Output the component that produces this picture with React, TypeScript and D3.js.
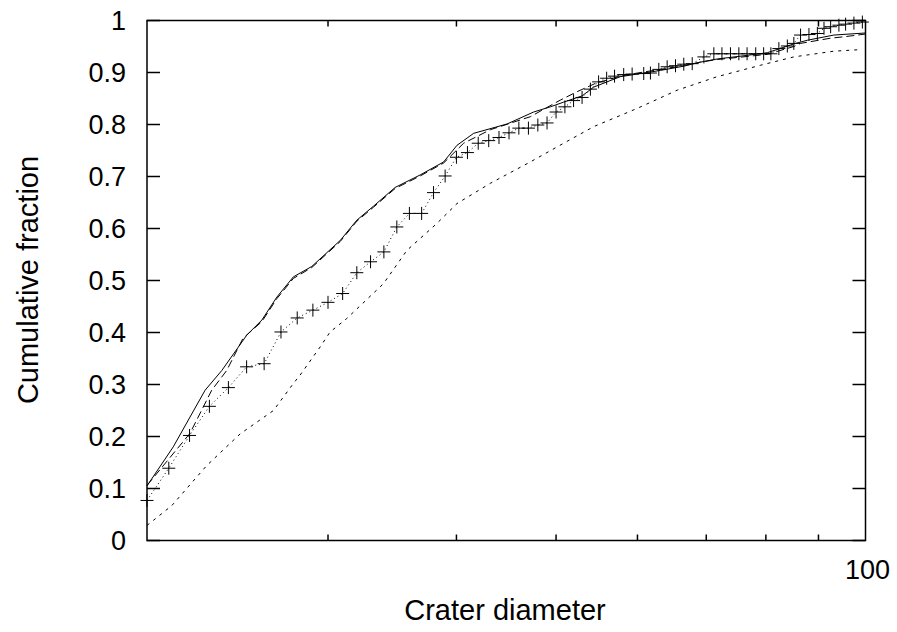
import React from "react";
import * as d3 from "d3";

// Model curves and observed data (crater diameter, cumulative fraction)
const solidD = [20.0, 21.21, 22.78, 23.65, 25.01, 25.87, 26.75, 27.76, 28.93, 30.83, 32.0, 33.22, 34.87, 36.88, 38.87, 40.05, 41.57, 44.8, 47.55, 49.37, 50.86, 53.0, 54.41, 57.75, 60.0, 63.17, 66.5, 69.11, 71.74, 76.0, 80.25, 85.17, 87.77, 93.16, 100];
const solidF = [0.105, 0.180, 0.289, 0.327, 0.395, 0.424, 0.468, 0.507, 0.527, 0.577, 0.616, 0.643, 0.679, 0.703, 0.728, 0.760, 0.783, 0.801, 0.824, 0.834, 0.843, 0.855, 0.872, 0.892, 0.897, 0.904, 0.912, 0.920, 0.926, 0.932, 0.938, 0.955, 0.962, 0.972, 0.976];

const longD = [20.0, 22.02, 23.12, 23.91, 24.8, 25.87, 26.75, 27.76, 28.93, 30.83, 32.0, 33.22, 34.87, 36.88, 38.87, 40.65, 43.16, 47.2, 50.49, 52.4, 54.6, 57.75, 60.0, 63.17, 66.5, 69.11, 71.74, 76.0, 80.25, 85.17, 86.46, 92.49, 95.6, 100];
const longF = [0.106, 0.206, 0.289, 0.327, 0.389, 0.421, 0.465, 0.504, 0.525, 0.575, 0.614, 0.641, 0.677, 0.701, 0.726, 0.764, 0.790, 0.815, 0.847, 0.863, 0.879, 0.893, 0.899, 0.906, 0.913, 0.920, 0.925, 0.930, 0.935, 0.950, 0.956, 0.966, 0.969, 0.974];

const shortD = [20.0, 21.14, 22.86, 24.64, 26.55, 27.76, 28.18, 29.47, 30.14, 31.29, 33.97, 35.8, 38.3, 40.05, 43.16, 47.2, 50.86, 54.41, 59.97, 65.59, 71.74, 79.06, 85.17, 93.16, 98.91];
const shortF = [0.029, 0.067, 0.144, 0.205, 0.250, 0.302, 0.318, 0.372, 0.401, 0.427, 0.494, 0.558, 0.610, 0.648, 0.687, 0.728, 0.764, 0.796, 0.831, 0.866, 0.892, 0.914, 0.930, 0.941, 0.944];

const obsD = [20, 21, 22, 23, 24, 25, 26, 27, 28, 29, 30, 31, 32, 33, 34, 35, 36, 37, 38, 39, 40, 41, 42, 43, 44, 45, 46, 47, 48, 49, 50, 51, 52, 53, 54, 55, 56, 57, 58.18, 59.29, 60.85, 61.77, 62.94, 64.13, 65.34, 66.56, 67.83, 69.63, 71.2, 72.5, 73.9, 75.3, 76.7, 78.2, 79.6, 80.9, 82.36, 83.94, 85.17, 86.46, 88.1, 89.78, 91.12, 92.49, 94.22, 95.64, 97.44, 99.3];
const obsF = [0.077, 0.139, 0.202, 0.258, 0.294, 0.334, 0.340, 0.401, 0.428, 0.443, 0.458, 0.475, 0.515, 0.536, 0.555, 0.603, 0.629, 0.629, 0.669, 0.701, 0.737, 0.746, 0.764, 0.769, 0.775, 0.784, 0.793, 0.793, 0.799, 0.803, 0.824, 0.834, 0.846, 0.852, 0.868, 0.882, 0.889, 0.893, 0.896, 0.897, 0.898, 0.899, 0.906, 0.911, 0.913, 0.916, 0.917, 0.930, 0.936, 0.936, 0.936, 0.936, 0.936, 0.936, 0.936, 0.936, 0.946, 0.951, 0.956, 0.972, 0.973, 0.975, 0.985, 0.988, 0.991, 0.993, 0.995, 0.997];

const yTicks = [0, 0.1, 0.2, 0.3, 0.4, 0.5, 0.6, 0.7, 0.8, 0.9, 1];
const yTickLabels = ["0", "0.1", "0.2", "0.3", "0.4", "0.5", "0.6", "0.7", "0.8", "0.9", "1"];
const xMinorTicks = [30, 40, 50, 60, 70, 80, 90];
const xMajorTicks = [100];
const xMajorLabels = ["100"];

const W = 897, H = 632;
const L = 147, R = 865.5, T = 20.5, B = 540.5;
const FONT = "'Liberation Sans', Arial, Helvetica, sans-serif";

export default function App() {
  const x = d3.scaleLog().domain([20, 100]).range([L, R]);
  const y = d3.scaleLinear().domain([0, 1]).range([B, T]);
  const line = d3.line<[number, number]>().x(d => x(d[0])).y(d => y(d[1]));
  const zip = (a: number[], b: number[]) => a.map((v, i) => [v, b[i]] as [number, number]);

  const solid = line(zip(solidD, solidF)) || "";
  const longDash = line(zip(longD, longF)) || "";
  const shortDash = line(zip(shortD, shortF)) || "";
  const obs = zip(obsD, obsF);
  const dotted = line(obs) || "";

  return (
    <svg width={W} height={H} style={{ position: "absolute", left: 0, top: 0, background: "#fff" }}>
      {/* data */}
      <g fill="none" stroke="#000" strokeWidth={1}>
        <path d={shortDash} strokeDasharray="3,5" />
        <path d={longDash} strokeDasharray="8,4" />
        <path d={solid} />
        <path d={dotted} strokeDasharray="1,3" />
        {obs.map((p, i) => (
          <path key={i} d={`M${x(p[0]) - 6.5},${y(p[1])}H${x(p[0]) + 6.5}M${x(p[0])},${y(p[1]) - 6.5}V${y(p[1]) + 6.5}`} />
        ))}
      </g>
      {/* frame */}
      <rect x={L} y={T} width={R - L} height={B - T} fill="none" stroke="#000" strokeWidth={1.5} />
      {/* ticks */}
      <g stroke="#000" strokeWidth={1.5}>
        {yTicks.map((t, i) => (
          <g key={i}>
            <line x1={L} x2={L + 13} y1={y(t)} y2={y(t)} />
            <line x1={R - 13} x2={R} y1={y(t)} y2={y(t)} />
          </g>
        ))}
        {xMinorTicks.map((t, i) => (
          <g key={i}>
            <line x1={x(t)} x2={x(t)} y1={B} y2={B - 6} />
            <line x1={x(t)} x2={x(t)} y1={T} y2={T + 6} />
          </g>
        ))}
      </g>
      <g fontFamily={FONT} fill="#000">
        {yTicks.map((t, i) => (
          <text key={i} x={126} y={y(t)} dy="0.36em" textAnchor="end" fontSize={27}>{yTickLabels[i]}</text>
        ))}
        {xMajorTicks.map((t, i) => (
          <text key={i} x={x(t) + 2} y={579} textAnchor="middle" fontSize={27}>{xMajorLabels[i]}</text>
        ))}
        <text x={505} y={620} textAnchor="middle" fontSize={29}>Crater diameter</text>
        <text transform={`translate(38,280) rotate(-90)`} textAnchor="middle" fontSize={29}>Cumulative fraction</text>
      </g>
    </svg>
  );
}
